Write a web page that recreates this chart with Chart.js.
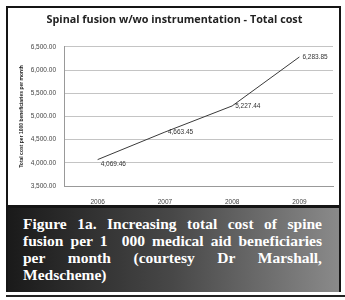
<!DOCTYPE html>
<html>
<head>
<meta charset="utf-8">
<script src="https://cdn.jsdelivr.net/npm/chart.js@4"></script>
<style>
  body { margin: 0; background: #fff; width: 345px; height: 300px; overflow: hidden; position: relative; }
  #frame { position: absolute; left: 6px; top: 6px; width: 331px; border: 2px solid #151515; border-bottom: 0; background: #151515; }
  #chartBox { position: relative; width: 331px; height: 197px; background: #fff; }
  #caption {
    margin-top: 3px; height: 84px; padding: 7px 17px 0 15px; box-sizing: border-box;
    background: linear-gradient(to right, #1a1a1a 0%, #484848 50%, #8a8a8a 100%);
    color: #fff; font-family: "Liberation Serif", serif; font-weight: bold; font-size: 15.5px; line-height: 17px;
  }
  #caption div { text-align: justify; text-align-last: justify; white-space: nowrap; }
  #caption div.last { text-align-last: left; }
  #rule { position: absolute; left: 6px; top: 295px; width: 339px; height: 2px; background: #222; }
</style>
</head>
<body>
<div id="frame">
  <div id="chartBox"><canvas id="chart" width="331" height="197"></canvas></div>
  <div id="caption">
    <div>Figure 1a. Increasing total cost of spine</div>
    <div>fusion per 1&nbsp; 000 medical aid beneficiaries</div>
    <div>per month (courtesy Dr Marshall,</div>
    <div class="last">Medscheme)</div>
  </div>
</div>
<div id="rule"></div>
<script>
const years = ['2006', '2007', '2008', '2009'];
const totalCost = [4069.46, 4663.45, 5227.44, 6283.85];
const yTicks = [3500, 4000, 4500, 5000, 5500, 6000, 6500];

const fmt = v => v.toLocaleString('en-US', { minimumFractionDigits: 2, maximumFractionDigits: 2 });

// simple data labels, placed to the right of each point
const pointLabels = {
  id: 'pointLabels',
  afterDatasetsDraw(chart) {
    const ctx = chart.ctx;
    const meta = chart.getDatasetMeta(0);
    ctx.save();
    ctx.font = '6.5px "Liberation Sans", sans-serif';
    ctx.fillStyle = '#333';
    ctx.textAlign = 'left';
    ctx.textBaseline = 'middle';
    meta.data.forEach((pt, i) => {
      const dy = i === 0 ? 5 : 0;
      ctx.fillText(fmt(totalCost[i]), pt.x + 3, pt.y + dy);
    });
    ctx.restore();
  }
};

new Chart(document.getElementById('chart'), {
  type: 'line',
  data: {
    labels: years,
    datasets: [{
      data: totalCost,
      borderColor: '#3a3a3a',
      borderWidth: 1,
      pointRadius: 0,
      tension: 0
    }]
  },
  options: {
    responsive: false,
    animation: false,
    devicePixelRatio: 1,
    layout: { padding: { left: 8, right: 6, top: 0, bottom: 0 } },
    plugins: {
      legend: { display: false },
      tooltip: { enabled: false },
      title: {
        display: true,
        text: 'Spinal fusion w/wo instrumentation - Total cost',
        color: '#222',
        font: { family: '"Open Sans", sans-serif', size: 10.8, weight: 'bold' },
        padding: { top: 5, bottom: 21 }
      }
    },
    scales: {
      x: {
        offset: true,
        grid: { display: false },
        border: { color: '#999' },
        ticks: { color: '#444', font: { family: '"Liberation Sans", sans-serif', size: 6.5 }, padding: 4 },
        afterFit: s => { s.height = 19; }
      },
      y: {
        min: 3500,
        max: 6500,
        afterBuildTicks: s => { s.ticks = yTicks.map(v => ({ value: v })); },
        grid: { color: '#c4c4c4', drawTicks: false },
        border: { color: '#999' },
        ticks: { color: '#444', font: { family: '"Liberation Sans", sans-serif', size: 6.5 }, padding: 8, callback: v => fmt(v) },
        title: {
          display: true,
          text: 'Total cost per 1000 beneficiaries per month',
          color: '#222',
          font: { family: '"Liberation Sans", sans-serif', size: 5, weight: 'bold' },
          padding: { top: 3, bottom: 0 }
        },
        afterFit: s => { s.width = 48; }
      }
    }
  },
  plugins: [pointLabels]
});
</script>
</body>
</html>
